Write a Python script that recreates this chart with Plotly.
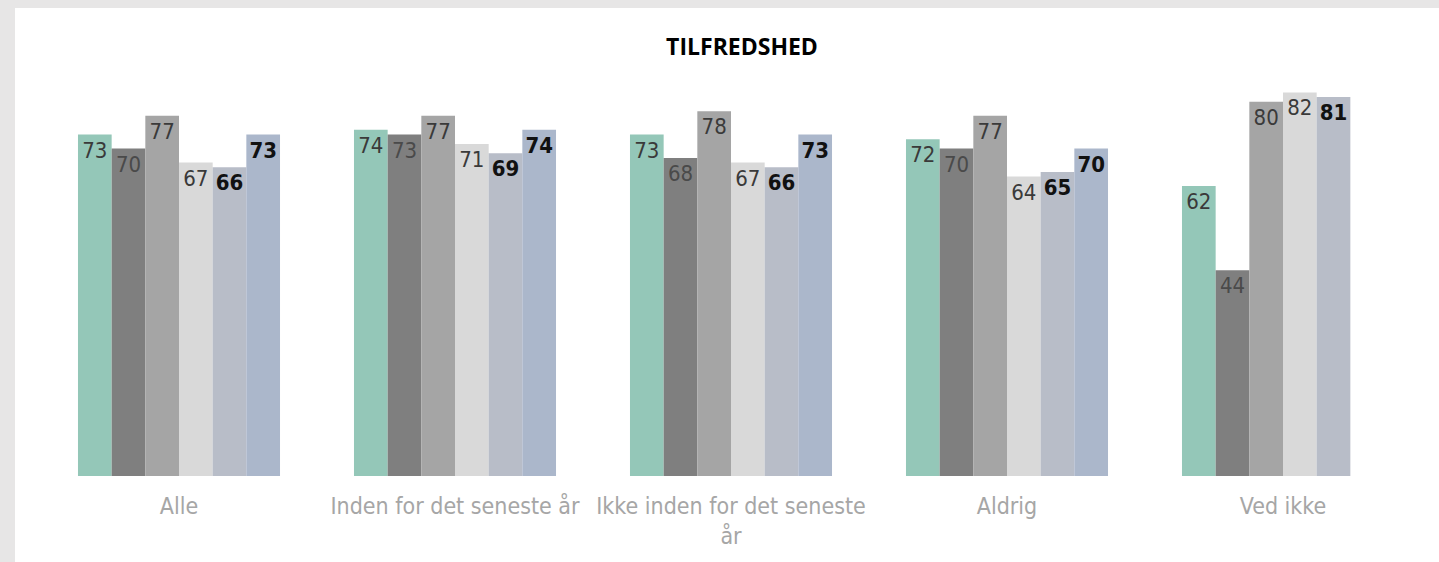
import plotly.graph_objects as go

# data
categories = ["Alle", "Inden for det seneste år", "Ikke inden for det seneste<br>år",
              "Aldrig", "Ved ikke"]
series_names = ["Gruppe 1", "Gruppe 2", "Gruppe 3", "Gruppe 4", "Gruppe 5", "Gruppe 6"]
s1 = [73, 74, 73, 72, 62]
s2 = [70, 73, 68, 70, 44]
s3 = [77, 77, 78, 77, 80]
s4 = [67, 71, 67, 64, 82]
s5 = [66, 69, 66, 65, 81]
s6 = [73, 74, 73, 70, None]

colors = ["#94C7B8", "#7F7F7F", "#A5A5A5", "#D9D9D9", "#B8BDC8", "#ABB7CB"]
text_colors = ["#3a3a3a", "#4a4a4a", "#3a3a3a", "#3a3a3a", "#111111", "#111111"]
bold = [False, False, False, False, True, True]

W, H = 1439, 562
ml, mr, mt, mb = 41, 18, 55, 86

fig = go.Figure()
for name, vals, c, tc, b in zip(series_names, [s1, s2, s3, s4, s5, s6],
                                 colors, text_colors, bold):
    fig.add_trace(go.Bar(
        name=name, x=categories, y=vals,
        marker=dict(color=c, line=dict(width=0)),
        text=vals,
        texttemplate="<b>%{y}</b>" if b else "%{y}",
        textposition="inside",
        insidetextanchor="end",
        textangle=0,
        constraintext="none",
        textfont=dict(family="DejaVu Sans Condensed", size=22, color=tc),
        showlegend=False,
        cliponaxis=False,
    ))

# white panel on grey background
pw = W - ml - mr
ph = H - mt - mb
fig.add_shape(type="rect", xref="paper", yref="paper", layer="below",
              x0=(15 - ml) / pw, x1=(W - ml) / pw,
              y0=-(mb) / ph, y1=(H - mb - 8) / ph,
              fillcolor="white", line=dict(width=0))

fig.update_layout(
    width=W, height=H,
    margin=dict(l=ml, r=mr, t=mt, b=mb),
    paper_bgcolor="#E7E6E6",
    plot_bgcolor="rgba(0,0,0,0)",
    barmode="group",
    bargap=0.268,
    bargroupgap=0,
    uniformtext=dict(mode=False),
    title=dict(text="<b>TILFREDSHED</b>", x=742 / W, xref="container",
               xanchor="center", y=1 - 47 / H, yanchor="middle",
               font=dict(family="Open Sans", size=23, color="#000000")),
)
fig.update_xaxes(showgrid=False, zeroline=False, showline=False, ticks="",
                 tickfont=dict(family="DejaVu Sans Condensed", size=23, color="#A6A6A6"),
                 ticklabelstandoff=14)
fig.update_yaxes(range=[0, 90], visible=False, showgrid=False)

# page has a default 8px body margin; drop it so the figure fills the window
fig.write_html("out.html", config={"displayModeBar": False},
               post_script="document.body.style.margin='0';")
